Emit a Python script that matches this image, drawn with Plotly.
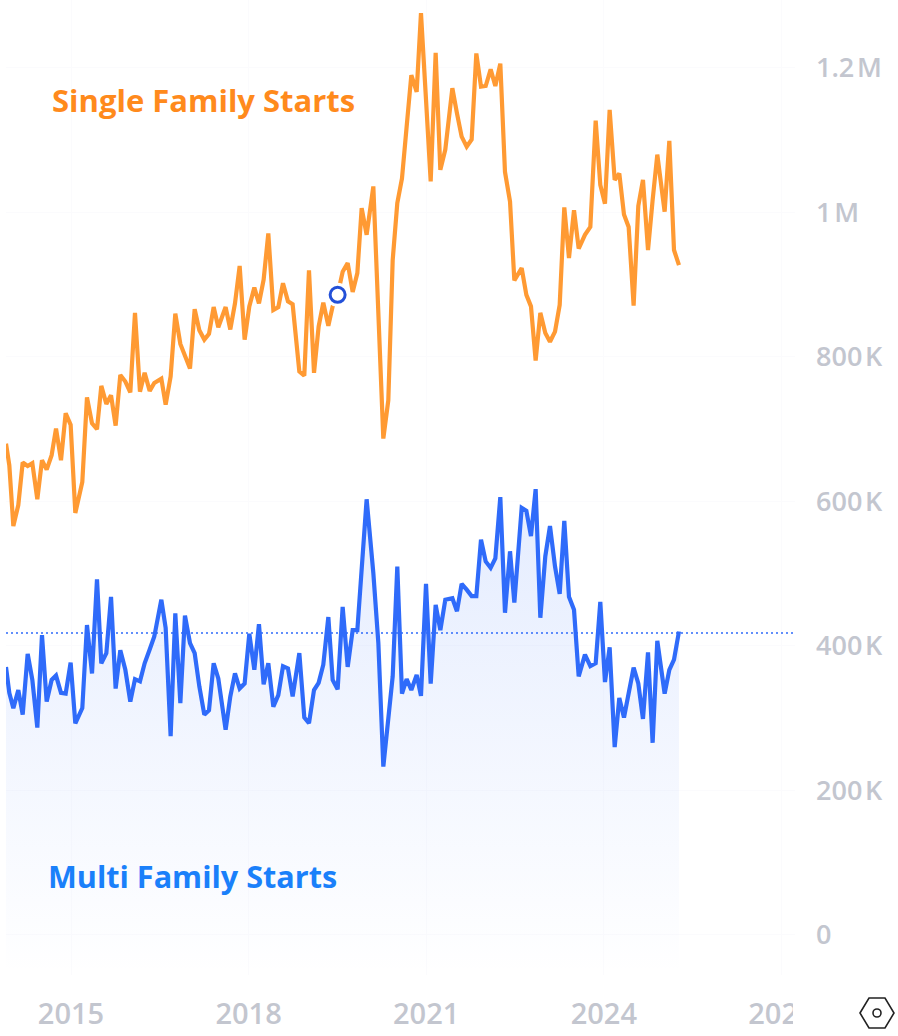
import plotly.graph_objects as go

# Time position of every reading, in calendar years
periods = [
2013.902,2013.958,2014.026,2014.110,2014.184,2014.268,2014.347,2014.431,2014.510,2014.589,
2014.673,2014.747,2014.831,2014.910,2014.994,2015.073,2015.191,2015.270,2015.355,2015.439,
2015.512,2015.597,2015.676,2015.754,2015.833,2015.918,2016.002,2016.081,2016.165,2016.244,
2016.329,2016.407,2016.526,2016.599,2016.683,2016.762,2016.847,2016.925,2017.010,2017.089,
2017.168,2017.252,2017.331,2017.410,2017.488,2017.612,2017.691,2017.770,2017.849,2017.933,
2018.012,2018.097,2018.175,2018.254,2018.333,2018.418,2018.502,2018.581,2018.665,2018.744,
2018.857,2018.941,2019.020,2019.105,2019.183,2019.262,2019.347,2019.420,2019.504,
2019.589,2019.674,2019.758,2019.837,2019.910,2019.994,2020.107,2020.192,2020.276,2020.360,
2020.434,2020.512,2020.591,2020.670,2020.749,2020.839,2020.912,2020.997,2021.076,2021.160,
2021.239,2021.323,2021.442,2021.520,2021.599,2021.684,2021.768,2021.847,2021.926,2022.005,
2022.089,2022.168,2022.252,2022.331,2022.416,2022.489,2022.613,2022.692,2022.770,2022.849,
2022.928,2023.012,2023.091,2023.176,2023.255,2023.333,2023.412,2023.497,2023.576,2023.682,
2023.773,2023.863,2023.941,2024.020,2024.099,2024.184,2024.262,2024.341,2024.420,2024.504,
2024.583,2024.662,2024.747,2024.825,2024.904,2025.028,2025.107,2025.186,2025.270]

# Thousands of starts
single_family = [
680,650,566,595,654,649,653,603,657,644,664,701,657,722,706,584,627,744,708,700,
760,735,747,705,775,766,751,861,752,778,753,764,770,734,773,860,818,803,784,866,
837,824,832,869,841,869,838,874,926,824,870,896,874,907,971,865,869,902,877,873,
780,774,920,778,842,875,843,870,886,
918,930,890,916,1006,969,1036,847,687,740,934,1013,1047,1119,1190,1167,1276,1156,1043,1221,
1059,1087,1172,1137,1105,1091,1101,1220,1174,1175,1198,1175,1206,1056,1015,906,923,886,870,795,
861,833,821,835,872,1007,937,1003,950,969,980,1127,1038,1012,1142,1045,1054,997,980,871,
1009,1045,948,1017,1080,1001,1099,948,927]

multi_family = [
371,335,314,339,305,389,353,287,415,323,353,359,335,334,377,293,314,429,362,492,
376,390,468,341,394,367,323,354,351,376,395,413,464,425,275,445,321,442,404,390,
344,305,311,376,355,284,330,362,341,348,417,367,430,347,376,316,332,372,369,330,
390,301,293,339,349,374,440,353,340,
454,371,422,422,512,603,501,404,233,295,358,510,334,354,339,360,331,486,348,457,
422,464,466,448,486,478,469,469,547,517,508,521,606,446,531,460,591,587,552,617,
439,524,566,510,472,573,468,450,358,388,372,376,461,350,398,260,328,301,337,370,
348,299,391,266,407,334,367,381,420]

latest_multi_family_level = 418
highlight_period = 2019.504
highlight_value = 886
y_tick_values = [0, 200, 400, 600, 800, 1000, 1200]
y_tick_labels = ["0", "200\u200aK", "400\u200aK", "600\u200aK", "800\u200aK", "1\u200aM", "1.2\u200aM"]
x_tick_values = [2015, 2018, 2021, 2024, 2027]
x_tick_labels = ["2015", "2018", "2021", "2024", "2027"]

X_RANGE = [2013.902, 2027.230]
Y_RANGE = [-55.4, 1294]
W, H = 898, 1036
L, R, T, B = 6, 795, 0, 975
FONT = "Open Sans"
GREY = "#c3c6cf"
ORANGE = "#ff9a33"
BLUE = "#2f6bfa"


def px(x):
    return (x - L) / (R - L)


def py(y):
    return (B - y) / (B - T)


fig = go.Figure()
fig.add_trace(go.Scatter(x=[periods[0], periods[-1]], y=[Y_RANGE[0], Y_RANGE[0]], mode="lines",
                         line=dict(width=0), hoverinfo="skip", showlegend=False))
fig.add_trace(go.Scatter(x=periods, y=multi_family, mode="lines", name="Multi Family Starts",
                         line=dict(color=BLUE, width=4.2, shape="linear"), fill="tonexty",
                         fillgradient=dict(type="vertical",
                                           colorscale=[[0, "rgba(47,107,250,0.0)"], [1, "rgba(47,107,250,0.13)"]],
                                           start=Y_RANGE[0], stop=620),
                         showlegend=False))
fig.add_trace(go.Scatter(x=periods, y=single_family, mode="lines", name="Single Family Starts",
                         line=dict(color=ORANGE, width=4.2), showlegend=False))
fig.add_trace(go.Scatter(x=[highlight_period], y=[highlight_value], mode="markers",
                         marker=dict(size=24, color="white"), hoverinfo="skip", showlegend=False))
fig.add_trace(go.Scatter(x=[highlight_period], y=[highlight_value], mode="markers",
                         marker=dict(size=15, color="white", line=dict(color="#2350d8", width=3)),
                         hoverinfo="skip", showlegend=False))

hex_cx, hex_cy = 877, 1013
hex_path = ("M {} {} L {} {} L {} {} L {} {} L {} {} L {} {} Z".format(
    px(hex_cx - 17), py(hex_cy), px(hex_cx - 8), py(hex_cy - 15), px(hex_cx + 8), py(hex_cy - 15),
    px(hex_cx + 17), py(hex_cy), px(hex_cx + 8), py(hex_cy + 15), px(hex_cx - 8), py(hex_cy + 15)))

shapes = [
    dict(type="line", xref="x", yref="y", x0=X_RANGE[0], x1=X_RANGE[1],
         y0=latest_multi_family_level, y1=latest_multi_family_level,
         line=dict(color=BLUE, width=1.5, dash="2px,3px"), layer="above"),
    dict(type="rect", xref="paper", yref="paper", x0=px(793), x1=px(830), y0=py(1034), y1=py(990),
         fillcolor="white", line=dict(width=0), layer="above"),
    dict(type="path", xref="paper", yref="paper", path=hex_path, line=dict(color="#222222", width=1.6),
         fillcolor="white", layer="above"),
    dict(type="circle", xref="paper", yref="paper", x0=px(hex_cx - 4), x1=px(hex_cx + 4),
         y0=py(hex_cy + 4), y1=py(hex_cy - 4), line=dict(color="#222222", width=1.6), layer="above"),
]

annotations = [
    dict(text="<b>Single Family Starts</b>", xref="paper", yref="paper", x=px(50), y=py(100), xanchor="left",
         yanchor="middle", showarrow=False, font=dict(family=FONT, size=31, color="#ff8a1c")),
    dict(text="<b>Multi Family Starts</b>", xref="paper", yref="paper", x=px(46), y=py(876), xanchor="left",
         yanchor="middle", showarrow=False, font=dict(family=FONT, size=30.6, color="#1a80fa")),
]

fig.update_layout(
    width=W, height=H, autosize=False,
    margin=dict(l=L, r=W - R, t=T, b=H - B, pad=0),
    paper_bgcolor="white", plot_bgcolor="white",
    shapes=shapes, annotations=annotations, showlegend=False,
    xaxis=dict(range=X_RANGE, tickmode="array", tickvals=x_tick_values, ticktext=x_tick_labels,
               showgrid=True, gridcolor="#fbfbfd", gridwidth=1, zeroline=False, showline=False, ticks="",
               ticklabelstandoff=19, tickfont=dict(family=FONT, size=29, color=GREY, weight=600)),
    yaxis=dict(range=Y_RANGE, side="right", tickmode="array", tickvals=y_tick_values, ticktext=y_tick_labels,
               showgrid=True, gridcolor="#fbfbfd", gridwidth=1, zeroline=False, showline=False, ticks="",
               ticklabelstandoff=20, tickfont=dict(family=FONT, size=27, color=GREY, weight=600)),
)

fig.write_html("out.html", config={"displayModeBar": False},
               post_script="document.body.style.margin='0';document.body.style.overflow='hidden';")
